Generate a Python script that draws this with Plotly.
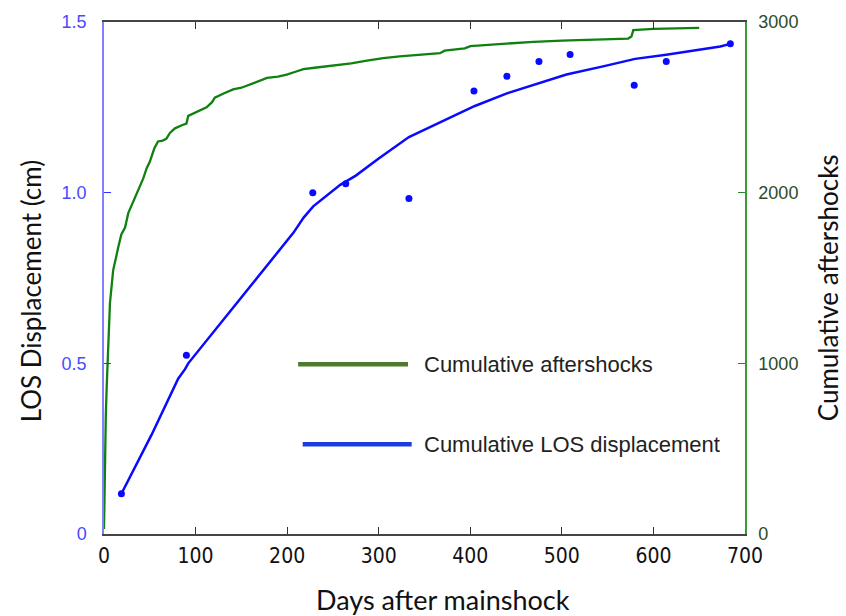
import plotly.graph_objects as go

# Cumulative aftershocks (right axis)
aft_days = [0, 0.5, 1, 2, 3, 4.7, 6.5, 10, 13.8, 16, 19, 23, 26.5, 30, 35, 39, 43, 46.6, 50, 55,
            59, 64, 68, 72, 77.5, 85, 90, 92, 100, 105, 112, 118, 121, 130, 141, 150, 163, 170,
            178, 190, 199.5, 210, 217.7, 230, 250, 270, 287, 305, 323, 345, 367, 372, 394, 400,
            430, 469, 500, 542, 572.5, 576, 578, 600, 650]
aft_counts = [30, 250, 485, 700, 872, 1160, 1352, 1545, 1651, 1690, 1757, 1796, 1880, 1925, 1985,
              2035, 2085, 2143, 2181, 2260, 2300, 2305, 2315, 2350, 2377, 2395, 2405, 2450, 2470,
              2482, 2500, 2530, 2557, 2580, 2605, 2615, 2640, 2652, 2672, 2680, 2692, 2710, 2724,
              2732, 2744, 2758, 2773, 2788, 2798, 2806, 2817, 2832, 2846, 2859, 2870, 2884, 2891,
              2900, 2903, 2915, 2952, 2960, 2965]

# Cumulative LOS displacement model (left axis)
los_days = [19, 52, 81, 88.5, 92, 125, 159, 185, 207, 218, 228.5, 258, 275, 300, 333, 360, 378,
            405, 440, 505, 545, 580, 614, 673, 684]
los_vals = [0.118, 0.291, 0.455, 0.483, 0.50, 0.61, 0.724, 0.81, 0.883, 0.927, 0.96, 1.023, 1.05,
            1.10, 1.163, 1.197, 1.22, 1.254, 1.291, 1.346, 1.37, 1.392, 1.404, 1.428, 1.436]

# Observed LOS displacement points
obs_days = [19, 90, 228, 264, 333, 404, 440, 475, 509, 579, 614, 684]
obs_vals = [0.118, 0.524, 1.0, 1.026, 0.983, 1.298, 1.341, 1.384, 1.405, 1.315, 1.384, 1.436]

x_ticks = [0, 100, 200, 300, 400, 500, 600, 700]
y_ticks = [0, 0.5, 1.0, 1.5]
y_ticktext = ["0", "0.5", "1.0", "1.5"]
y2_ticks = [0, 1000, 2000, 3000]

legend_labels = ["Cumulative aftershocks", "Cumulative LOS displacement"]

fig = go.Figure()
fig.add_trace(go.Scatter(x=aft_days, y=aft_counts, mode="lines", yaxis="y2",
                         line=dict(color="#108010", width=2.3), name=legend_labels[0],
                         showlegend=False))
fig.add_trace(go.Scatter(x=los_days, y=los_vals, mode="lines",
                         line=dict(color="#0a0aff", width=2.5), name=legend_labels[1],
                         showlegend=False))
fig.add_trace(go.Scatter(x=obs_days, y=obs_vals, mode="markers",
                         marker=dict(color="#0a0aff", size=7), name="Observed",
                         showlegend=False))

# custom legend
fig.add_shape(type="line", xref="x", yref="y", x0=212, x1=332, y0=0.497, y1=0.497,
              line=dict(color="#4e7a2e", width=4.5))
fig.add_shape(type="line", xref="x", yref="y", x0=217, x1=336, y0=0.263, y1=0.263,
              line=dict(color="#1a3be0", width=4.5))
legend_font = dict(family="Liberation Sans, Arial", size=22, color="#222")
fig.add_annotation(x=347, y=0.497, xref="x", yref="y", text=legend_labels[0], showarrow=False,
                   xanchor="left", yanchor="middle", font=legend_font)
fig.add_annotation(x=347, y=0.263, xref="x", yref="y", text=legend_labels[1], showarrow=False,
                   xanchor="left", yanchor="middle", font=legend_font)

# axis titles
title_color = "#111"
fig.add_annotation(xref="x domain", yref="y domain", x=-73 / 641, y=0.474,
                   text="LOS Displacement (cm)", showarrow=False, textangle=-90,
                   xanchor="center", yanchor="middle",
                   font=dict(family="Lato", size=26, color=title_color))
fig.add_annotation(xref="x domain", yref="y domain", x=(828 - 104) / 641, y=0.48,
                   text="Cumulative aftershocks", showarrow=False, textangle=-90,
                   xanchor="center", yanchor="middle",
                   font=dict(family="Lato", size=26, color=title_color))
fig.add_annotation(xref="x domain", yref="y domain", x=(443 - 104) / 641, y=-(600 - 534) / 519,
                   text="Days after mainshock", showarrow=False,
                   xanchor="center", yanchor="middle",
                   font=dict(family="Lato", size=27, color=title_color))

tick_font = dict(family="Liberation Sans, Arial", size=18)
x_tick_font = dict(family="Liberation Sans Narrow, Arial Narrow, DejaVu Sans Condensed, Liberation Sans",
                   size=21)

fig.update_layout(
    width=846, height=616,
    margin=dict(l=104, r=101, t=15, b=82),
    paper_bgcolor="white", plot_bgcolor="white",
    xaxis=dict(range=[0, 700], tickvals=x_ticks, ticks="inside", ticklen=7, tickcolor="#333",
               showline=True, linecolor="#444", linewidth=1.5, mirror="ticks", showgrid=False,
               zeroline=False, ticklabelstandoff=2, tickfont=dict(color="#111", **x_tick_font)),
    yaxis=dict(range=[0, 1.5], tickvals=y_ticks, ticktext=y_ticktext, ticks="inside", ticklen=7,
               tickcolor="#3030ff", showline=True, linecolor="#8080ff", linewidth=1.5,
               showgrid=False, zeroline=False, ticklabelstandoff=12,
               tickfont=dict(color="#4a4aff", **tick_font)),
    yaxis2=dict(range=[0, 3000], tickvals=y2_ticks, ticks="inside", ticklen=7,
                tickcolor="#2a8a2a", overlaying="y", side="right", showline=True,
                linecolor="#3a9a3a", linewidth=1.5, showgrid=False, zeroline=False,
                ticklabelstandoff=8, tickfont=dict(color="#2b4b2b", **tick_font)),
)

fig.write_html("out.html")
